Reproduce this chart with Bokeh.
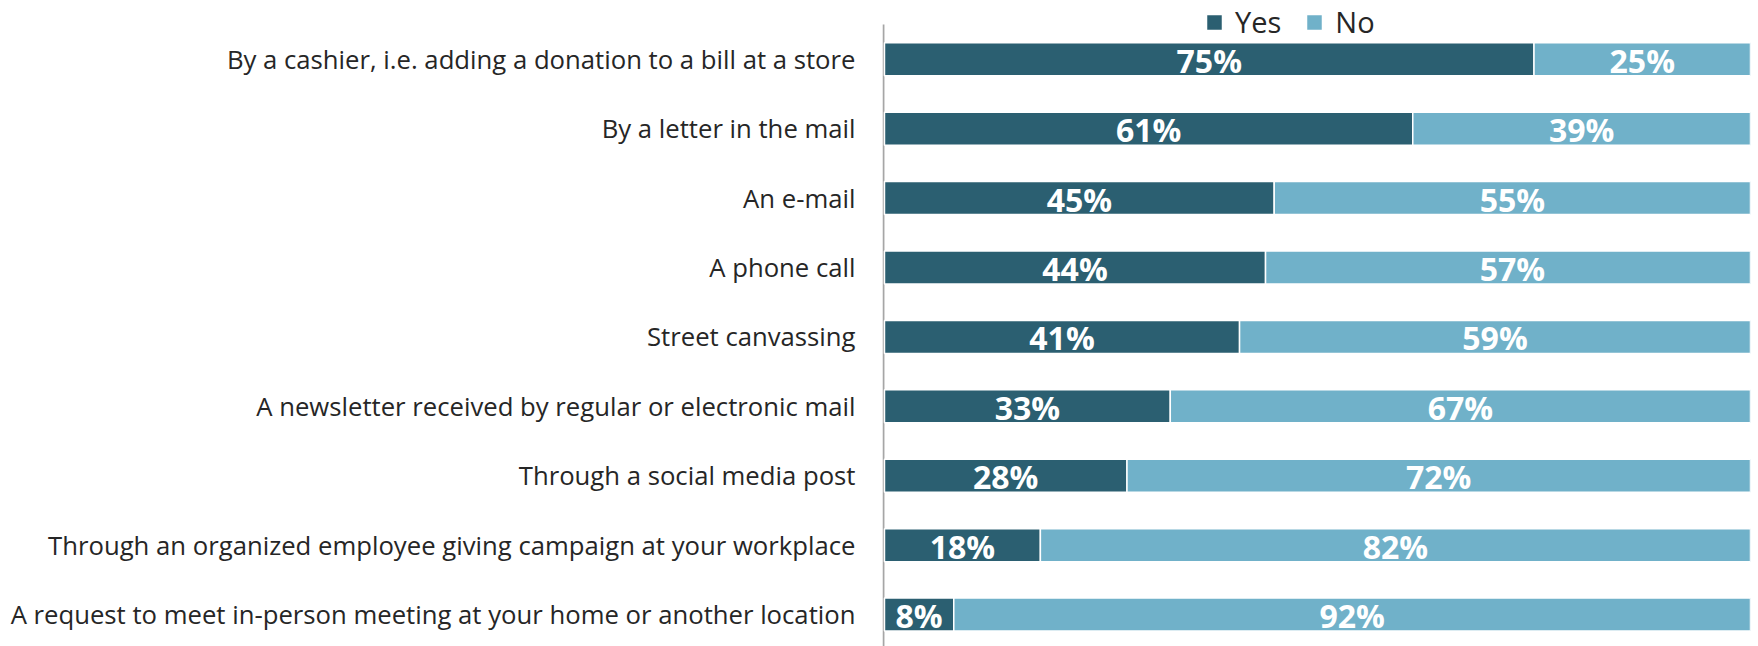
from bokeh.plotting import figure
from bokeh.models import ColumnDataSource, Range1d, Legend, LegendItem, FixedTicker
from bokeh.core.properties import value
from bokeh.embed import file_html
from bokeh.resources import INLINE

categories = [
    "By a cashier, i.e. adding a donation to a bill at a store",
    "By a letter in the mail",
    "An e-mail",
    "A phone call",
    "Street canvassing",
    "A newsletter received by regular or electronic mail",
    "Through a social media post",
    "Through an organized employee giving campaign at your workplace",
    "A request to meet in-person meeting at your home or another location",
]
yes = [75, 61, 45, 44, 41, 33, 28, 18, 8]
no = [25, 39, 55, 57, 59, 67, 72, 82, 92]

YES_COLOR = "#2B5F71"
NO_COLOR = "#70B1C9"
TEXT_COLOR = "#262626"

n = len(categories)
ypos = [n - 1 - i for i in range(n)]
y_lo, y_hi = -0.46, n - 0.5   # extent of the category bands

src = ColumnDataSource(dict(
    y=ypos,
    yes=yes,
    no=no,
    no_left=yes,
    no_right=[a + b for a, b in zip(yes, no)],
    yes_mid=[a / 2 for a in yes],
    no_mid=[a + b / 2 for a, b in zip(yes, no)],
    yes_lbl=[f"{v}%" for v in yes],
    no_lbl=[f"{v}%" for v in no],
))

# the frame reaches the top of the canvas so the legend can sit above the bars
p = figure(
    width=1758, height=646,
    x_range=Range1d(-0.23, 100),
    y_range=Range1d(y_lo, y_hi + 0.346),
    output_backend="svg", toolbar_location=None,
    min_border_left=882, min_border_right=8,
    min_border_top=0, min_border_bottom=0,
    x_axis_location=None,
)
p.outline_line_color = None
p.grid.visible = False
p.background_fill_color = "white"
p.border_fill_color = "white"

# vertical category axis line, spanning only the bands
p.segment(x0=-0.12, y0=y_lo, x1=-0.12, y1=y_hi, line_color="#A6A6A6", line_width=2)

bar_h = 0.475
r_yes = p.hbar(y="y", left=0, right="yes", height=bar_h, source=src,
               fill_color=YES_COLOR, line_color="white", line_width=1.5)
r_no = p.hbar(y="y", left="no_left", right="no_right", height=bar_h, source=src,
              fill_color=NO_COLOR, line_color="white", line_width=1.5)

for xcol, tcol in (("yes_mid", "yes_lbl"), ("no_mid", "no_lbl")):
    p.text(x=xcol, y="y", text=tcol, source=src,
           text_align="center", text_baseline="middle",
           text_color="white", text_font=value("Open Sans"),
           text_font_style="bold", text_font_size="32px", y_offset=1)

ax = p.yaxis[0]
ax.ticker = FixedTicker(ticks=ypos)
ax.major_label_overrides = {y: c for y, c in zip(ypos, categories)}
ax.major_tick_line_color = None
ax.minor_tick_line_color = None
ax.major_tick_out = 0
ax.major_tick_in = 0
ax.major_label_standoff = 27
ax.axis_line_color = None
ax.major_label_text_font = "Open Sans"
ax.major_label_text_font_size = "25.7px"
ax.major_label_text_color = TEXT_COLOR

# location is the legend's bottom-left corner from the frame's bottom-left
legend = Legend(
    items=[LegendItem(label="Yes", renderers=[r_yes]),
           LegendItem(label="No", renderers=[r_no])],
    orientation="horizontal",
    location=(322, 605),
    glyph_width=20, glyph_height=20,
    label_text_font="Open Sans", label_text_font_size="29px",
    label_text_color=TEXT_COLOR,
    label_standoff=11, spacing=23, padding=0, margin=0,
    border_line_color=None, background_fill_alpha=0,
)
p.add_layout(legend, "center")

open("out.html", "w").write(file_html(p, INLINE))
